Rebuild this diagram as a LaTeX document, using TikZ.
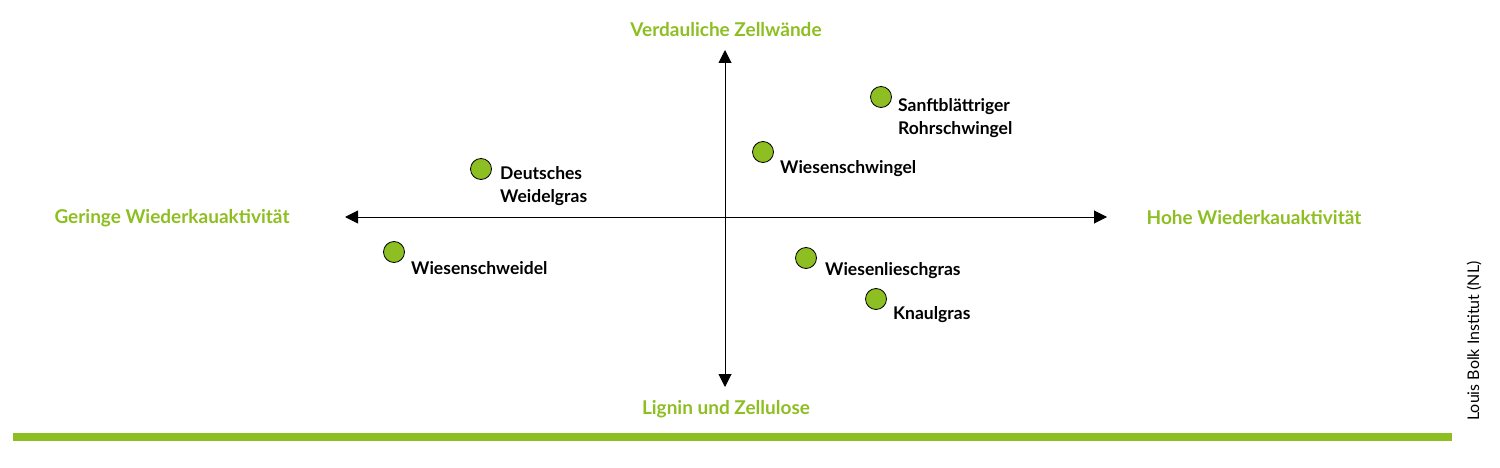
\documentclass[tikz,border=0pt]{standalone}
\usepackage{fontspec}
\setmainfont{Lato}
\usetikzlibrary{arrows.meta}
\definecolor{grn}{HTML}{8DBE22}
\tikzset{
 axis/.style={line width=1pt,-{Triangle[length=13pt,width=13pt]}},
 ax lab/.style={text=grn,font=\fontsize{19}{22}\selectfont\bfseries},
 dot/.style={circle,draw=black,fill=grn,minimum size=21pt,inner sep=0pt,line width=0.8pt},
 gl/.style={anchor=west,align=left,font=\fontsize{17.5}{23}\selectfont\bfseries,inner sep=0pt}
}
\begin{document}
\begin{tikzpicture}[x=1pt,y=-1pt]
\useasboundingbox (0,0) rectangle (1500,468);
\coordinate (c) at (725,217);
\coordinate (l) at (345,217);
\coordinate (r) at (1107,217);
\coordinate (t) at (725,50);
\coordinate (b) at (725,387);
\draw[axis] (c) -- (l);
\draw[axis] (c) -- (r);
\draw[axis] (c) -- (t);
\draw[axis] (c) -- (b);
\node[ax lab] (lt) at (726,30) {Verdauliche Zellwände};
\node[ax lab] (lb) at (726,409) {Lignin und Zellulose};
\node[ax lab] (ll) at (172,218) {Geringe Wiederkauaktivität};
\node[ax lab] (lr) at (1254,218) {Hohe Wiederkauaktivität};
\node[dot] (d1) at (481,169) {};
\node[gl] (t1) at (500,186) {Deutsches\\Weidelgras};
\node[dot] (d2) at (394,252) {};
\node[gl] (t2) at (411,268) {Wiesenschweidel};
\node[dot] (d3) at (763,152) {};
\node[gl] (t3) at (780,169) {Wiesenschwingel};
\node[dot] (d4) at (881,97) {};
\node[gl] (t4) at (898,118) {Sanftblättriger\\Rohrschwingel};
\node[dot] (d5) at (806,258) {};
\node[gl] (t5) at (825,271) {Wiesenlieschgras};
\node[dot] (d6) at (876,299) {};
\node[gl] (t6) at (893,315) {Knaulgras};
\fill[grn] (13,433) rectangle (1452,441);
\node[rotate=90,font=\fontsize{16}{18}\selectfont] (src) at (1474,341) {Louis Bolk Institut (NL)};
\end{tikzpicture}
\end{document}
